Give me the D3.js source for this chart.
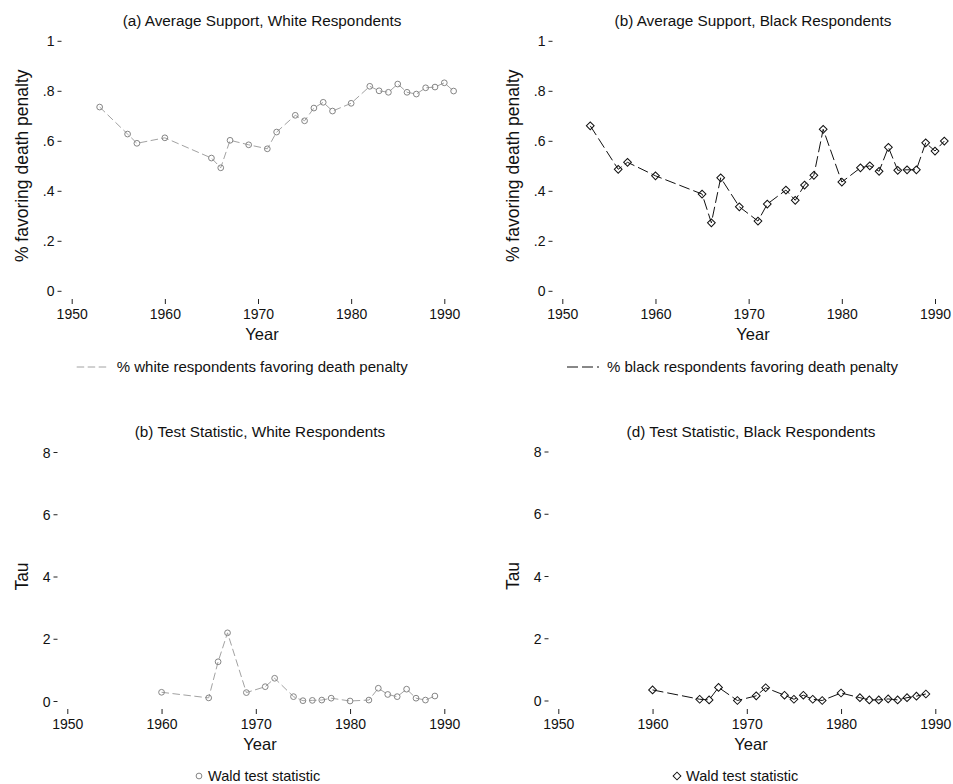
<!DOCTYPE html>
<html>
<head>
<meta charset="utf-8">
<script src="https://cdn.jsdelivr.net/npm/d3@7"></script>
<style>
  body { margin: 0; background: #fff; }
  svg { font-family: "Liberation Sans", Arial, Helvetica, sans-serif; }
  .tick line { stroke: #222; }
</style>
</head>
<body>
<svg id="chart" width="953" height="784"></svg>
<script>

// survey years for the support series
var supportYears = [1953, 1956, 1957, 1960, 1965, 1966, 1967, 1969, 1971, 1972, 1974, 1975, 1976,
    1977, 1978, 1980, 1982, 1983, 1984, 1985, 1986, 1987, 1988, 1989, 1990, 1991];
var whiteSupport = [0.735, 0.627, 0.590, 0.612, 0.531, 0.492, 0.602, 0.584, 0.568, 0.635, 0.702, 0.680, 0.731,
    0.754, 0.719, 0.750, 0.818, 0.800, 0.794, 0.827, 0.794, 0.787, 0.812, 0.815, 0.832, 0.799];
var blackSupport = [0.660, 0.486, 0.514, 0.460, 0.387, 0.272, 0.452, 0.336, 0.279, 0.347, 0.403, 0.362, 0.423,
    0.462, 0.646, 0.435, 0.492, 0.500, 0.478, 0.574, 0.482, 0.484, 0.484, 0.592, 0.559, 0.599];

// years for the test statistic series
var testYears = [1960, 1965, 1966, 1967, 1969, 1971, 1972, 1974, 1975, 1976, 1977, 1978, 1980,
    1982, 1983, 1984, 1985, 1986, 1987, 1988, 1989];
var whiteWald = [0.28, 0.10, 1.26, 2.19, 0.27, 0.46, 0.73, 0.14, 0.01, 0.02, 0.03, 0.09, 0.00,
    0.03, 0.41, 0.21, 0.14, 0.38, 0.09, 0.03, 0.16];
var blackWald = [0.34, 0.04, 0.02, 0.42, 0.00, 0.15, 0.41, 0.17, 0.04, 0.17, 0.04, 0.00, 0.24,
    0.09, 0.02, 0.02, 0.05, 0.02, 0.09, 0.14, 0.21];

var yearTicks = [1950, 1960, 1970, 1980, 1990];
var supportTicks = [0, 0.2, 0.4, 0.6, 0.8, 1];
var supportTickLabels = ["0", ".2", ".4", ".6", ".8", "1"];
var tauTicks = [0, 2, 4, 6, 8];

var titles = ["(a) Average Support, White Respondents", "(b) Average Support, Black Respondents",
    "(b) Test Statistic, White Respondents", "(d) Test Statistic, Black Respondents"];
var legendLabels = ["% white respondents favoring death penalty", "% black respondents favoring death penalty",
    "Wald test statistic", "Wald test statistic"];

var svg = d3.select("#chart");

var GRAY_LINE = "#a2a2a2";
var GRAY_MARK = "#858585";

/**
 * one sub graph. px/py are the pixel ranges of the first and last tick.
 */
function drawPanel(p) {
    var g = svg.append("g");

    var x = d3.scaleLinear().domain([1950, 1990]).range(p.px);
    var y = d3.scaleLinear().domain(p.ydomain).range(p.py);

    var xAxis = d3.axisBottom(x).tickValues(yearTicks).tickFormat(d3.format("d"))
        .tickSize(5).tickSizeOuter(0).tickPadding(5);
    var yAxis = d3.axisLeft(y).tickValues(p.yticks)
        .tickFormat(function (d, i) { return p.ylabels ? p.ylabels[i] : String(d); })
        .tickSize(4).tickSizeOuter(0).tickPadding(3);

    var gx = g.append("g").attr("transform", "translate(0," + p.axisY + ")").call(xAxis);
    var gy = g.append("g").attr("transform", "translate(" + p.axisX + ",0)").call(yAxis);
    [gx, gy].forEach(function (a) {
        a.attr("font-family", null).attr("font-size", null);
        a.select(".domain").remove();
        a.selectAll(".tick text").style("font-size", "14px").style("fill", "#111");
    });
    gy.selectAll(".tick text").attr("dy", "0.36em");

    // titles
    g.append("text")
        .attr("x", p.titleX).attr("y", p.titleY)
        .attr("text-anchor", "middle")
        .style("font-size", "15.3px").style("fill", "#111")
        .text(p.title);

    g.append("text")
        .attr("x", p.titleX).attr("y", p.axisY + 41)
        .attr("text-anchor", "middle")
        .style("font-size", "16.5px").style("fill", "#111")
        .text("Year");

    var yMid = (p.py[0] + p.py[1]) / 2;
    g.append("text")
        .attr("transform", "translate(" + p.ytitleX + "," + yMid + ") rotate(-90)")
        .attr("text-anchor", "middle")
        .style("font-size", "17.5px").style("fill", "#111")
        .text(p.ytitle);

    // series
    var pts = p.xs.map(function (d, i) { return [d, p.ys[i]]; });
    var line = d3.line()
        .x(function (d) { return x(d[0]); })
        .y(function (d) { return y(d[1]); });

    g.append("path")
        .datum(pts)
        .attr("fill", "none")
        .attr("stroke", p.color)
        .attr("stroke-width", 1)
        .attr("stroke-dasharray", p.dash)
        .attr("d", line);

    var sym = d3.symbol().type(p.diamond ? d3.symbolSquare : d3.symbolCircle).size(p.diamond ? 30 : 26);
    g.selectAll(".mk")
        .data(pts)
        .enter().append("path")
        .attr("class", "mk")
        .attr("transform", function (d) {
            return "translate(" + x(d[0]) + "," + y(d[1]) + ")" + (p.diamond ? " rotate(45)" : "");
        })
        .attr("d", sym)
        .attr("fill", "none")
        .attr("stroke", p.mcolor)
        .attr("stroke-width", 1);

    // legend
    var lg = g.append("g").attr("transform", "translate(" + p.legendX + "," + p.legendY + ")");
    if (p.legendLine) {
        lg.append("line")
            .attr("x1", 0).attr("x2", 32).attr("y1", 0).attr("y2", 0)
            .attr("stroke", p.color).attr("stroke-width", 1)
            .attr("stroke-dasharray", p.dash);
        lg.append("text").attr("x", 40).attr("y", 5)
            .style("font-size", "15px").style("fill", "#111")
            .text(p.legend);
    } else {
        lg.append("path")
            .attr("transform", "translate(4,0)" + (p.diamond ? " rotate(45)" : ""))
            .attr("d", sym)
            .attr("fill", "none").attr("stroke", p.mcolor).attr("stroke-width", 1);
        lg.append("text").attr("x", 13).attr("y", 5)
            .style("font-size", "14.5px").style("fill", "#111")
            .text(p.legend);
    }
}

drawPanel({
    xs: supportYears, ys: whiteSupport, color: GRAY_LINE, mcolor: GRAY_MARK, dash: "7.5,3.5", diamond: false,
    px: [71.7, 444.3], py: [290.8, 40.8], ydomain: [0, 1],
    yticks: supportTicks, ylabels: supportTickLabels,
    axisX: 61.5, axisY: 299,
    title: titles[0], titleX: 262, titleY: 26,
    ytitle: "% favoring death penalty", ytitleX: 28,
    legend: legendLabels[0], legendLine: true, legendX: 76.7, legendY: 367
});

drawPanel({
    xs: supportYears, ys: blackSupport, color: "#111", mcolor: "#111", dash: "11,4", diamond: true,
    px: [562.3, 935], py: [290.8, 40.8], ydomain: [0, 1],
    yticks: supportTicks, ylabels: supportTickLabels,
    axisX: 552.5, axisY: 299,
    title: titles[1], titleX: 753, titleY: 26,
    ytitle: "% favoring death penalty", ytitleX: 519,
    legend: legendLabels[1], legendLine: true, legendX: 567, legendY: 367
});

drawPanel({
    xs: testYears, ys: whiteWald, color: GRAY_LINE, mcolor: GRAY_MARK, dash: "7.5,3.5", diamond: false,
    px: [67.3, 444.3], py: [701, 452], ydomain: [0, 8],
    yticks: tauTicks, ylabels: null,
    axisX: 57.5, axisY: 709,
    title: titles[2], titleX: 260, titleY: 437,
    ytitle: "Tau", ytitleX: 28,
    legend: legendLabels[2], legendLine: false, legendX: 195, legendY: 776
});

drawPanel({
    xs: testYears, ys: blackWald, color: "#111", mcolor: "#111", dash: "11,4", diamond: true,
    px: [558.3, 935.3], py: [700.5, 451.5], ydomain: [0, 8],
    yticks: tauTicks, ylabels: null,
    axisX: 548.5, axisY: 709,
    title: titles[3], titleX: 751, titleY: 437,
    ytitle: "Tau", ytitleX: 519,
    legend: legendLabels[3], legendLine: false, legendX: 673, legendY: 776
});

</script>
</body>
</html>
